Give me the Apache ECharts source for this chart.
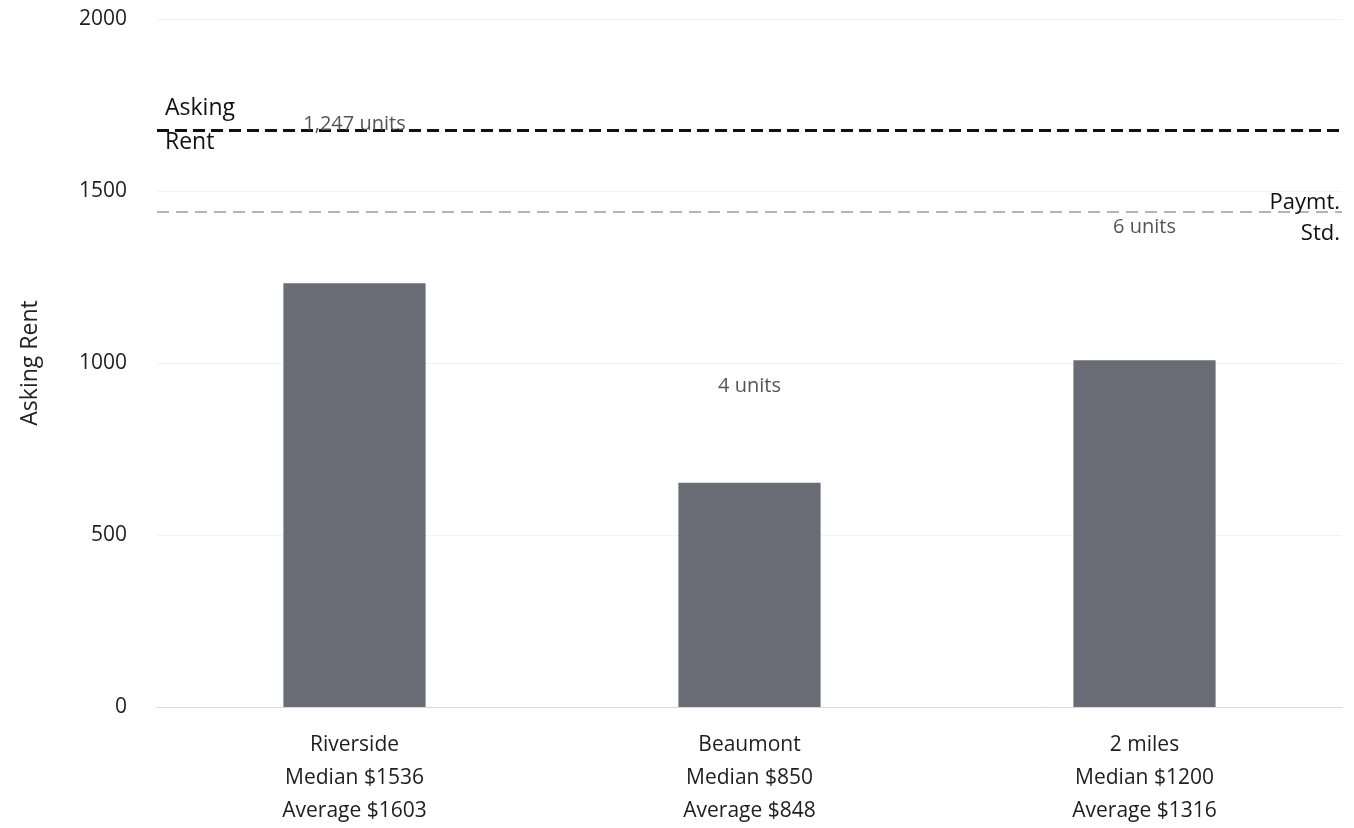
<!DOCTYPE html>
<html><head><meta charset="utf-8">
<script src="https://cdn.jsdelivr.net/npm/echarts@6/dist/echarts.min.js"></script>
<style>html,body{margin:0;padding:0;background:#fff}#c{width:1354px;height:828px}</style>
</head><body><div id="c"></div>
<script>
const categories = ['Riverside', 'Beaumont', '2 miles'];
const medians = ['$1536', '$850', '$1200'];
const averages = ['$1603', '$848', '$1316'];
const barValues = [1232, 652, 1008];
const askingRentLine = 1678;
const paymtStdLine = 1441;
const unitLabels = [
  { cat: 'Riverside', value: 1693, text: '1,247 units' },
  { cat: 'Beaumont', value: 933, text: '4 units' },
  { cat: '2 miles', value: 1394, text: '6 units' }
];
const yTicks = { min: 0, max: 2000, interval: 500 };

const FONT = 'Open Sans';
const chart = echarts.init(document.getElementById('c'));
chart.setOption({
  animation: false,
  textStyle: { fontFamily: FONT },
  grid: { left: 157, right: 12, top: 19, bottom: 119 },
  xAxis: {
    type: 'category',
    data: categories,
    axisLine: { show: true, lineStyle: { color: '#d8d8d8', width: 1 } },
    axisTick: { show: false },
    axisLabel: {
      margin: 22,
      fontSize: 21,
      lineHeight: 33,
      color: '#1e1e1e',
      fontFamily: FONT,
      formatter: function (v, i) {
        return v + '\nMedian ' + medians[i] + '\nAverage ' + averages[i];
      }
    }
  },
  yAxis: {
    type: 'value',
    min: yTicks.min, max: yTicks.max, interval: yTicks.interval,
    name: 'Asking Rent',
    nameLocation: 'middle',
    nameGap: 115,
    nameTextStyle: { fontSize: 23, color: '#222', fontFamily: FONT },
    axisLine: { show: false },
    axisTick: { show: false },
    axisLabel: { margin: 30, fontSize: 21, color: '#1e1e1e', fontFamily: FONT, formatter: v => String(v) },
    splitLine: { show: true, lineStyle: { color: '#f3f3f3', width: 1 } }
  },
  series: [{
    type: 'bar',
    data: barValues,
    barWidth: '36%',
    itemStyle: { color: '#696c75' },
    markLine: {
      symbol: 'none',
      silent: true,
      data: [
        { yAxis: askingRentLine, lineStyle: { color: '#111', type: [12, 6], width: 3 },
          label: { show: true, position: 'insideStartTop', formatter: 'Asking\nRent', fontSize: 23, color: '#111', lineHeight: 34, distance: [8, -30], fontFamily: FONT } },
        { yAxis: paymtStdLine, lineStyle: { color: '#b0b4bb', type: [12, 7], width: 2 },
          label: { show: true, position: 'insideEndTop', formatter: 'Paymt.\nStd.', fontSize: 22, color: '#111', lineHeight: 31, align: 'right', distance: [2, -38], fontFamily: FONT } }
      ]
    },
    markPoint: {
      symbol: 'circle', symbolSize: 0,
      data: unitLabels.map(u => ({
        coord: [u.cat, u.value],
        label: { show: true, formatter: u.text, fontSize: 20, color: '#555', fontFamily: FONT, position: 'inside' }
      }))
    }
  }]
});
</script>
</body></html>
